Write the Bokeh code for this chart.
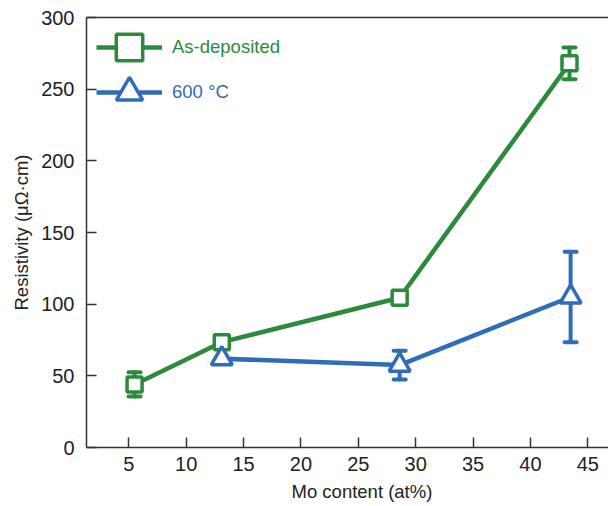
from bokeh.plotting import figure
from bokeh.models import (ColumnDataSource, Whisker, TeeHead, Legend, LegendItem,
                          LinearAxis, FixedTicker, Range1d, Title)
from bokeh.embed import file_html
from bokeh.resources import INLINE

# Data
mo_dep = [5.5, 13.1, 28.6, 43.4]
res_dep = [44, 73.5, 104.5, 268]
err_dep = [8.5, 3, 2.5, 11]

mo_600 = [13.1, 28.6, 43.5]
res_600 = [62, 57.5, 105]
err_600 = [0, 10, 31.5]

x_ticks = [5, 10, 15, 20, 25, 30, 35, 40, 45]
y_ticks = [0, 50, 100, 150, 200, 250, 300]

GREEN = "#2c8a3c"
BLUE = "#2f6db6"
FONT = "Liberation Sans"
AX = "#333333"

p = figure(width=608, height=506, output_backend="svg", toolbar_location=None,
           x_range=Range1d(1.31, 46.8), y_range=Range1d(0, 300),
           min_border_left=86, min_border_right=0, min_border_top=17, min_border_bottom=59)
p.xgrid.visible = False
p.ygrid.visible = False
p.outline_line_color = None
p.background_fill_color = "white"
p.border_fill_color = "white"


def add_series(x, y, e, color, marker, size):
    src = ColumnDataSource(dict(x=x, y=y, upper=[a + b for a, b in zip(y, e)],
                                lower=[a - b for a, b in zip(y, e)]))
    w = Whisker(base="x", upper="upper", lower="lower", source=src, dimension="height",
                line_color=color, line_width=4, line_cap="round",
                upper_head=TeeHead(size=12, line_color=color, line_width=4, line_cap="round"),
                lower_head=TeeHead(size=12, line_color=color, line_width=4, line_cap="round"))
    p.add_layout(w)
    ln = p.line("x", "y", source=src, line_color=color, line_width=4.5)
    mk = p.scatter("x", "y", source=src, marker=marker, size=size, line_color=color,
                   line_width=3.5, fill_color="white")
    return ln, mk


l1, m1 = add_series(mo_dep, res_dep, err_dep, GREEN, "square", 15)
l2, m2 = add_series(mo_600, res_600, err_600, BLUE, "triangle", 21)

for ax in (p.xaxis[0], p.yaxis[0]):
    ax.axis_line_color = AX
    ax.axis_line_width = 1.5
    ax.major_tick_line_color = AX
    ax.major_tick_line_width = 1.5
    ax.major_tick_in = 10
    ax.major_tick_out = 0
    ax.minor_tick_line_color = None
    ax.major_label_text_font = FONT
    ax.major_label_text_font_size = "20px"
    ax.major_label_text_color = "#222222"
    ax.axis_label_text_font = FONT
    ax.axis_label_text_font_size = "18.5px"
    ax.axis_label_text_font_style = "normal"
    ax.axis_label_text_color = "#222222"

p.xaxis.ticker = FixedTicker(ticks=x_ticks)
p.yaxis.ticker = FixedTicker(ticks=y_ticks)
p.yaxis.axis_label = "Resistivity (μΩ·cm)"
p.xaxis.major_label_standoff = 9
p.yaxis.major_label_standoff = 12
p.yaxis.axis_label_standoff = 6

xtitle = Title(text="Mo content (at%)", align="left", offset=205, text_font=FONT,
               text_font_size="18.5px", text_font_style="normal", text_color="#222222",
               standoff=10)
p.add_layout(xtitle, "below")

top = LinearAxis(ticker=FixedTicker(ticks=[]), axis_line_color=AX, axis_line_width=1.5,
                 major_tick_line_color=None, minor_tick_line_color=None,
                 major_label_text_font_size="0px")
p.add_layout(top, "above")

leg1 = Legend(items=[LegendItem(label="As-deposited", renderers=[l1, m1])],
              location=(10, 367), label_text_color=GREEN)
leg2 = Legend(items=[LegendItem(label="600 °C", renderers=[l2, m2])],
              location=(10, 322), label_text_color=BLUE)
for lg in (leg1, leg2):
    lg.border_line_color = None
    lg.background_fill_alpha = 0
    lg.glyph_width = 66
    lg.glyph_height = 66
    lg.label_text_font = FONT
    lg.label_text_font_size = "18.5px"
    lg.label_standoff = 10
    lg.label_height = 66
    lg.padding = 0
    lg.margin = 0
    lg.spacing = 0
    p.add_layout(lg)

open("out.html", "w").write(file_html(p, INLINE))
